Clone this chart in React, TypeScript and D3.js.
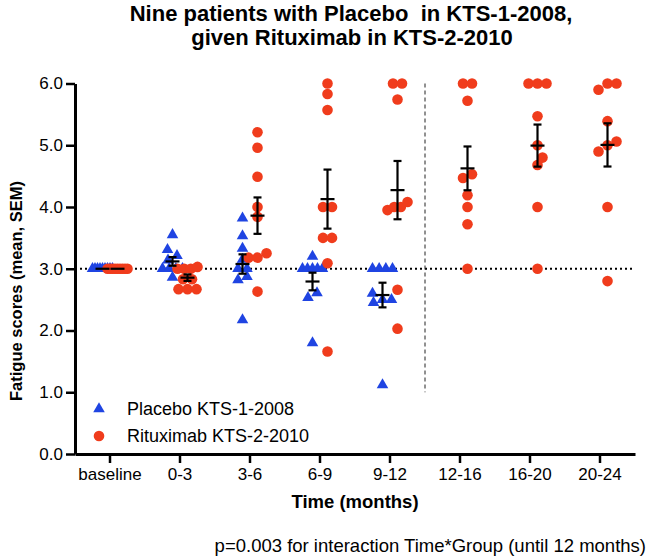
import React, { useRef, useEffect } from "react";
import * as d3 from "d3";

// time windows on the x axis
const periods = ["baseline", "0-3", "3-6", "6-9", "9-12", "12-16", "16-20", "20-24"];

// fatigue scores of the nine patients
const placebo: (number[] | null)[] = [
  [3, 3, 3, 3, 3, 3, 3, 3, 3],
  [3.55, 3.31, 3.21, 3.14, 3.0, 3.0, 3.0, 3.0, 2.86],
  [3.82, 3.53, 3.33, 3.15, 3.0, 3.0, 2.87, 2.82, 2.17],
  [3.2, 3.0, 3.0, 3.0, 3.0, 3.0, 2.61, 2.53, 1.8],
  [3.0, 3.0, 3.0, 3.0, 2.6, 2.5, 2.5, 2.45, 1.12],
  null,
  null,
  null,
];

const rituximab: number[][] = [
  [3, 3, 3, 3, 3, 3, 3, 3, 3],
  [3.03, 3.0, 3.0, 3.0, 2.83, 2.83, 2.67, 2.67, 2.67],
  [5.21, 4.96, 4.49, 4.0, 3.84, 3.25, 3.18, 3.18, 2.63],
  [6.0, 5.83, 5.57, 4.0, 4.0, 3.5, 3.5, 3.09, 1.66],
  [6.0, 6.0, 5.74, 4.08, 4.0, 4.0, 3.95, 2.66, 2.03],
  [6.0, 6.0, 5.72, 4.53, 4.47, 4.19, 4.0, 3.72, 3.0],
  [6.0, 6.0, 6.0, 5.47, 5.0, 4.8, 4.68, 4.0, 3.0],
  [6.0, 6.0, 5.9, 5.39, 5.06, 5.0, 4.9, 4.0, 2.8],
];

const yTicks = [0, 1, 2, 3, 4, 5, 6];

const BLUE = "#1f44e2";
const RED = "#f03c1c";
const FONT = "'Liberation Sans', Arial, Helvetica, sans-serif";

// spread points of (almost) equal value side by side, like a scatter dot plot
function spread(values: number[], pxPerUnit: number) {
  const sorted = values.slice().sort((a, b) => a - b);
  const bins: number[][] = [];
  sorted.forEach(v => {
    const last = bins[bins.length - 1];
    if (last && v - last[last.length - 1] < 0.1) last.push(v);
    else bins.push([v]);
  });
  const out: { v: number; dx: number }[] = [];
  bins.forEach(b => {
    const k = b.length;
    if (k === 1) {
      // single point: nudge sideways if it sits on top of a neighbour
      const v = b[0];
      const free = (dx: number) =>
        out.every(o => Math.hypot(o.dx - dx, (o.v - v) * pxPerUnit) >= 8);
      const dx = [0, 5, -5, 10, -10].find(free) ?? 0;
      out.push({ v, dx });
      return;
    }
    const step = Math.min(9, 20 / (k - 1));
    b.forEach((v, j) => out.push({ v, dx: (j - (k - 1) / 2) * step }));
  });
  return out;
}

export default function App() {
  const ref = useRef<SVGSVGElement>(null);

  useEffect(() => {
    if (!ref.current) return;
    const svg = d3.select(ref.current);
    svg.selectAll("*").remove();

    const x = d3.scaleBand().domain(periods).range([75, 635]).padding(0);
    const y = d3.scaleLinear().domain([0, 6]).range([454, 83.5]);
    const cx = (p: string) => x(p)! + x.bandwidth() / 2;
    const off = 7.5;
    const ppu = y(0) - y(1);

    // title
    svg.append("text")
      .attr("x", 351).attr("y", 21)
      .attr("text-anchor", "middle")
      .attr("font-family", FONT).attr("font-weight", "bold").attr("font-size", 22)
      .attr("xml:space", "preserve")
      .text("Nine patients with Placebo  in KTS-1-2008,");
    svg.append("text")
      .attr("x", 352).attr("y", 45)
      .attr("text-anchor", "middle")
      .attr("font-family", FONT).attr("font-weight", "bold").attr("font-size", 22)
      .text("given Rituximab in KTS-2-2010");

    // reference lines
    svg.append("line")
      .attr("x1", 75).attr("x2", 632)
      .attr("y1", y(3)).attr("y2", y(3))
      .attr("stroke", "#000").attr("stroke-width", 2)
      .attr("stroke-dasharray", "2,3");

    const split = (cx("9-12") + cx("12-16")) / 2;
    svg.append("line")
      .attr("x1", split).attr("x2", split)
      .attr("y1", y(6)).attr("y2", y(1))
      .attr("stroke", "#222").attr("stroke-width", 1)
      .attr("stroke-dasharray", "4,3");

    // axes
    const yAxis = svg.append("g")
      .attr("transform", "translate(75,0)")
      .call(d3.axisLeft(y).tickValues(yTicks).tickFormat(d3.format(".1f")).tickSize(9).tickSizeOuter(0).tickPadding(3));
    yAxis.select(".domain").attr("stroke-width", 3);
    yAxis.selectAll(".tick line").attr("stroke-width", 2.5);
    yAxis.selectAll("text").attr("font-family", FONT).attr("font-size", 17).attr("fill", "#000");

    const xAxis = svg.append("g")
      .attr("transform", "translate(0,454)")
      .call(d3.axisBottom(x).tickSize(9).tickSizeOuter(0).tickPadding(5));
    xAxis.select(".domain").attr("stroke-width", 3);
    xAxis.selectAll(".tick line").attr("stroke-width", 2.5);
    xAxis.selectAll("text").attr("font-family", FONT).attr("font-size", 17).attr("fill", "#000");

    svg.append("text")
      .attr("transform", "translate(22,291) rotate(-90)")
      .attr("text-anchor", "middle")
      .attr("font-family", FONT).attr("font-weight", "bold").attr("font-size", 16.5)
      .text("Fatigue scores (mean, SEM)");

    svg.append("text")
      .attr("x", 355).attr("y", 508)
      .attr("text-anchor", "middle")
      .attr("font-family", FONT).attr("font-weight", "bold").attr("font-size", 18.5)
      .text("Time (months)");

    svg.append("text")
      .attr("x", 646).attr("y", 552)
      .attr("text-anchor", "end")
      .attr("font-family", FONT).attr("font-size", 18.5)
      .text("p=0.003 for interaction Time*Group (until 12 months)");

    const tri = d3.symbol().type(d3.symbolTriangle).size(58);
    const marks = svg.append("g");
    const bars: { c: number; m: number; s: number }[] = [];

    periods.forEach((p, i) => {
      const pv = placebo[i];
      if (pv) {
        const c = cx(p) - off;
        marks.selectAll(null)
          .data(spread(pv, ppu))
          .enter()
          .append("path")
          .attr("d", tri()!)
          .attr("transform", d => `translate(${c + d.dx},${y(d.v)})`)
          .attr("fill", BLUE);
        bars.push({ c, m: d3.mean(pv)!, s: d3.deviation(pv)! / Math.sqrt(pv.length) });
      }
    });
    periods.forEach((p, i) => {
      const rv = rituximab[i];
      const c = cx(p) + off;
      marks.selectAll(null)
        .data(spread(rv, ppu))
        .enter()
        .append("circle")
        .attr("cx", d => c + d.dx)
        .attr("cy", d => y(d.v))
        .attr("r", 5.3)
        .attr("fill", RED);
      bars.push({ c, m: d3.mean(rv)!, s: d3.deviation(rv)! / Math.sqrt(rv.length) });
    });

    // mean and SEM
    const eb = svg.append("g").attr("stroke", "#000").attr("stroke-width", 2.2);
    bars.forEach(b => {
      eb.append("line").attr("x1", b.c - 7).attr("x2", b.c + 7).attr("y1", y(b.m)).attr("y2", y(b.m));
      if (b.s > 0.001) {
        eb.append("line").attr("x1", b.c).attr("x2", b.c).attr("y1", y(b.m - b.s)).attr("y2", y(b.m + b.s));
        [b.m - b.s, b.m + b.s].forEach(v =>
          eb.append("line").attr("x1", b.c - 4).attr("x2", b.c + 4).attr("y1", y(v)).attr("y2", y(v)));
      }
    });

    // legend
    const lg = svg.append("g").attr("font-family", FONT).attr("font-size", 18);
    lg.append("path").attr("d", tri()!).attr("transform", "translate(99,409)").attr("fill", BLUE);
    lg.append("text").attr("x", 127).attr("y", 415).text("Placebo KTS-1-2008");
    lg.append("circle").attr("cx", 99).attr("cy", 436).attr("r", 5.3).attr("fill", RED);
    lg.append("text").attr("x", 127).attr("y", 442).text("Rituximab KTS-2-2010");
  }, []);

  return (
    <div style={{ position: "absolute", left: 0, top: 0 }}>
      <svg ref={ref} width={651} height={559} style={{ display: "block", background: "#fff" }} />
    </div>
  );
}
